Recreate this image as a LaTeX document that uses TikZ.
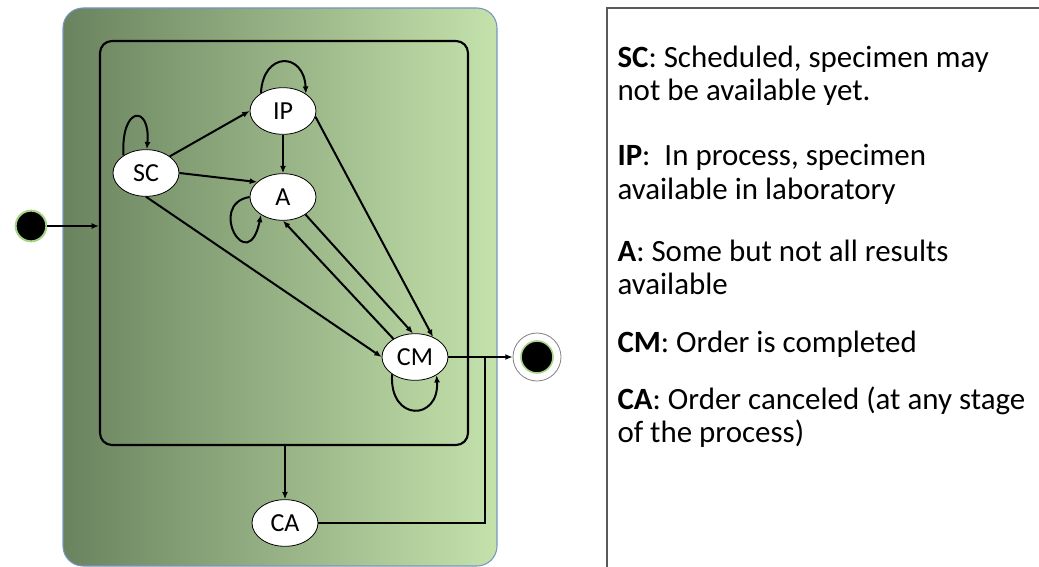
\documentclass[tikz,border=0pt]{standalone}
\usepackage{fontspec}
\setmainfont{Carlito}
\usetikzlibrary{shapes.geometric,arrows.meta}

\definecolor{oliveleft}{RGB}{106,131,95}
\definecolor{sageright}{RGB}{196,226,172}
\definecolor{frameblue}{RGB}{120,150,190}
\definecolor{glowgreen}{RGB}{165,212,135}
\definecolor{legendgray}{RGB}{90,90,90}

\tikzset{
	state/.style={ellipse, draw, fill=white, line width=0.6pt, minimum width=49.5pt, minimum height=35pt, inner sep=0pt, font=\fontsize{19.5}{21}\selectfont},
	trans/.style={line width=1.5pt, -{Latex[length=5.5pt,width=4.5pt]}},
	plain/.style={line width=1.5pt},
	legend/.style={anchor=base west, inner sep=0pt, align=left, font=\fontsize{23.2}{24.75}\selectfont}}
\tikzset{every picture/.style={line width=0.75pt}}

\begin{document}
\begin{tikzpicture}[x=0.75pt,y=0.75pt,yscale=-1,xscale=1]
	\useasboundingbox (0,0) rectangle (1039,567);

	%Rounded Rect [id:dp1842] 
	\draw [draw=frameblue, line width=0.8pt, left color=oliveleft, right color=sageright, rounded corners=15pt]  (63,8) rectangle (497,566) ;
	%Rounded Rect [id:dp2207] 
	\node [draw, line width=1.6pt, rounded corners=9pt, minimum width=276pt, minimum height=303pt, inner sep=0pt] (active) at (284,243) {};

	%Shape: Ellipse [id:dp3310] 
	\node [state] (SC) at (146,173) {SC};
	%Shape: Ellipse [id:dp3311] 
	\node [state] (IP) at (283,111) {IP};
	%Shape: Ellipse [id:dp3312] 
	\node [state] (A) at (283,197) {A};
	%Shape: Ellipse [id:dp3313] 
	\node [state] (CM) at (415,357) {CM};
	%Shape: Ellipse [id:dp3314] 
	\node [state] (CA) at (285,523) {CA};

	%Shape: Circle [id:dp4101] 
	\node [circle, fill=black, draw=glowgreen, line width=1.5pt, minimum size=23pt, inner sep=0pt] (start) at (31,226) {};
	%Shape: Circle [id:dp4102] 
	\node [circle, fill=white, draw=gray, line width=0.6pt, minimum size=36pt, inner sep=0pt] (final) at (537,357) {};
	\node [circle, fill=black, draw=glowgreen, line width=1.2pt, minimum size=24pt, inner sep=0pt] (finaldot) at (final) {};
	\coordinate (cmjoin) at (485,357);

	%Straight Lines [id:da5120] 
	\draw [trans] (start) -- (start -| active.west) ;
	%Straight Lines [id:da5121] 
	\draw [trans] (SC.35) -- (IP.west) ;
	%Straight Lines [id:da5122] 
	\draw [trans] (SC.east) -- (A.150) ;
	%Straight Lines [id:da5123] 
	\draw [trans] (IP.south) -- (A.north) ;
	%Straight Lines [id:da5124] 
	\draw [trans] (SC.south) -- (CM.west) ;
	%Straight Lines [id:da5125] 
	\draw [trans] (A.-38) -- (CM.95) ;
	%Straight Lines [id:da5126] 
	\draw [trans] (CM.140) -- (A.south) ;
	%Straight Lines [id:da5127] 
	\draw [trans] (IP.-10) -- (CM.48) ;
	%Straight Lines [id:da5128] 
	\draw [trans] (CM.east) -- (final.west) ;
	%Straight Lines [id:da5129] 
	\draw [trans] (CA.north |- active.south) -- (CA.north) ;
	%Straight Lines [id:da5130] 
	\draw [plain] (CA.east) -| (cmjoin) ;

	%Curve Lines [id:da6201] 
	\draw [trans] (SC.142) .. controls +(-3,-50) and +(4,-45) .. (SC.88) ;
	%Curve Lines [id:da6202] 
	\draw [trans] (IP.141) .. controls +(2,-42) and +(-2,-42) .. (IP.37) ;
	%Curve Lines [id:da6203] 
	\draw [trans] (A.180) .. controls +(-43,7) and +(-13,63) .. (A.219) ;
	%Curve Lines [id:da6204] 
	\draw [trans] (CM.217) .. controls +(-3,48) and +(3,46) .. (CM.320) ;

	%Straight Lines [id:da7300] 
	\draw [draw=legendgray, line width=0.8pt] (607,570) -- (607,8) -- (1045,8) ;

	% Text Node
	\node [legend] (lsc) at (617,101) {\textbf{SC}: Scheduled, specimen may\\not be available yet.};
	% Text Node
	\node [legend] (lip) at (617,199) {\textbf{IP}:\ \ In process, specimen\\available in laboratory};
	% Text Node
	\node [legend] (la) at (617,294) {\textbf{A}: Some but not all results\\available};
	% Text Node
	\node [legend] (lcm) at (617,352) {\textbf{CM}: Order is completed};
	% Text Node
	\node [legend] (lca) at (617,442) {\textbf{CA}: Order canceled (at any stage\\of the process)};

\end{tikzpicture}
\end{document}
